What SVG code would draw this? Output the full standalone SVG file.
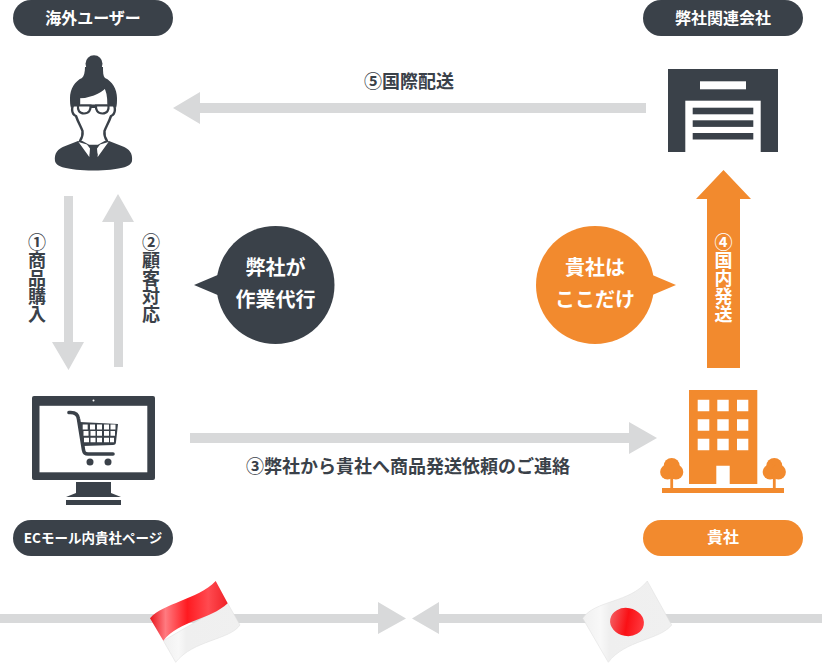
<svg xmlns="http://www.w3.org/2000/svg" width="822" height="663" viewBox="0 0 822 663">
<style>
text{font-family:"Noto Sans CJK JP","Noto Sans",sans-serif;font-weight:700}
.d{fill:#3a4149}.o{fill:#f28a2e}.g{fill:#d8d9da}.w{fill:#fff}
.pill{fill:#fff;font-size:16px;text-anchor:middle}
.lab{fill:#3a4149;font-size:18px}
.bub{fill:#fff;font-size:20px;text-anchor:middle}
.v{writing-mode:vertical-rl;font-size:18px}
.gl{fill:#fff;stroke:#3a4149;stroke-width:2.200}
</style>
<defs>
<linearGradient id="red" x1="0" y1="0" x2="1" y2="0"><stop offset="0" stop-color="#e8141c"/><stop offset=".2" stop-color="#ff7a80"/><stop offset=".48" stop-color="#ff1a20"/><stop offset=".75" stop-color="#ff4a50"/><stop offset="1" stop-color="#f02228"/></linearGradient>
<linearGradient id="whi" x1="0" y1="0" x2="1" y2="0"><stop offset="0" stop-color="#f0f0f0"/><stop offset=".2" stop-color="#f8f8f8"/><stop offset=".3" stop-color="#efefef"/><stop offset="1" stop-color="#f0f0f0"/></linearGradient>
<linearGradient id="sun" x1="0" y1="0" x2="1" y2="0"><stop offset="0" stop-color="#f45a5e"/><stop offset=".5" stop-color="#fa1015"/><stop offset="1" stop-color="#ff3a40"/></linearGradient>
</defs>
<g id="connectors">
<path class="g" d="M64 196H73V342H84L68.500 370L52 342H64Z"/>
<path class="g" d="M114 367V222H102L118 194L134 222H123V367Z"/>
<path class="g" d="M646 103V113H200V124L173 108L200 92V103Z"/>
<path class="g" d="M190 433H629V422L657 438L629 454V443H190Z"/>
<path class="o" d="M707 368V199H696L723.500 170L751 199H740V368Z"/>
<path class="g" d="M0 614H378V602L406 618.500L378 634V623H0Z"/>
<path class="g" d="M822 614H439V602L412 618.500L439 634V623H822Z"/>
</g>
<g id="label-1"><text class="lab v" x="37" y="233">①商品購入</text></g>
<g id="label-2"><text class="lab v" x="151" y="233">②顧客対応</text></g>
<g id="label-3"><text class="lab" x="246" y="473">③弊社から貴社へ商品発送依頼のご連絡</text></g>
<g id="label-4"><text class="v" fill="#fff" x="723.500" y="233">④国内発送</text></g>
<g id="label-5"><text class="lab" x="364" y="88">⑤国際配送</text></g>
<g id="overseas-user">
<rect class="d" x="13" y="0" width="160" height="36" rx="18"/>
<text class="pill" x="93" y="24">海外ユーザー</text>
<circle class="d" cx="94" cy="63.700" r="8.500"/>
<path class="d" d="M85 67C85 72 84 76 82 78C75 81 70 89 70 98C70 102 70 105 71 108L74 104H113L116 108C117 105 117 102 117 98C117 89 112 81 105 78C103 76 103 72 103 67Z"/>
<path class="d" d="M55 161C54 153 58 149 64 146.500L78 141L93.500 146L109 141L123 146.500C129 149 133 153 132 161C131 167 120 170 93.500 170.500C67 170 56 167 55 161Z"/>
<path d="M79 97C88 97 100 93 105 87C108 91 108.500 96 108.500 104L112 104C116 106 116 114 111 116C109 122 106 127 104.500 131C104 135 105 138 107 141L98 146H89L80 141C82 138 83 135 82.500 131C81 127 78 122 76 116C71 114 71 106 75 104H79Z" fill="#fff" stroke="#3a4149" stroke-width="2.400" stroke-linejoin="round"/>
<path class="w" d="M78.500 142L87 144.500L90 148.500L89.300 157ZM108.500 142L100 144.500L97 148.500L97.700 157Z"/>
<path class="d" d="M89.500 145H98L96.300 150L97.700 155L94 159L89.700 155L91 150Z"/>
<path d="M74 105.500H113M90.500 107H96" fill="none" stroke="#3a4149" stroke-width="2.200"/>
<path class="gl" d="M78 105.500H90.500C91 110 89 113.500 84 113.500C79 113.500 77.500 110 78 105.500Z"/>
<path class="gl" d="M96 105.500H108.500C109 110 107.500 113.500 102.500 113.500C97.500 113.500 95.500 110 96 105.500Z"/>
</g>
<g id="partner-company">
<rect class="d" x="643" y="0" width="160" height="36" rx="18"/>
<text class="pill" x="723" y="24">弊社関連会社</text>
<rect class="d" x="668" y="69" width="110" height="83"/>
<rect class="w" x="700" y="81.300" width="46" height="8"/>
<rect class="w" x="685.300" y="100.700" width="75.400" height="51.300"/>
<rect class="d" x="692.700" y="107.700" width="60.600" height="6.600"/>
<rect class="d" x="692.700" y="120.300" width="60.600" height="6.600"/>
<rect class="d" x="692.700" y="133" width="60.600" height="6.500"/>
</g>
<g id="bubble-ours">
<circle class="d" cx="275.500" cy="285" r="59"/>
<path class="d" d="M194 285L220 274V296Z"/>
<text class="bub" x="275.500" y="275">弊社が</text>
<text class="bub" x="275.500" y="307">作業代行</text>
</g>
<g id="bubble-yours">
<circle class="o" cx="595" cy="285" r="59"/>
<path class="o" d="M676 285L650 274V296Z"/>
<text class="bub" x="595" y="275">貴社は</text>
<text class="bub" x="595" y="307">ここだけ</text>
</g>
<g id="ec-page">
<rect class="d" x="32" y="396" width="123" height="84" rx="2"/>
<rect class="w" x="39.500" y="405.800" width="107.800" height="66.500"/>
<circle class="w" cx="93.500" cy="400.500" r="1"/>
<path class="d" d="M76 482H111V493L121 497H66L76 493Z"/>
<rect class="d" x="66" y="500" width="55" height="5"/>
<path d="M69 412.500C75 412 78 414 78.500 419L83.500 450C84 453 85 454 88 454H113" fill="none" stroke="#3a4149" stroke-width="3.600" stroke-linecap="round"/>
<path class="d" d="M80 422L118 424L116 442C116 444 115 445 113 445L83 446Z"/>
<path class="w" d="M82.700 424.500h5v5h-5zM90 424.500h5v5h-5zM97 424.500h5v5h-5zM104 424.500h5v5h-5zM110.500 424.500h5v5h-5zM83.500 431h5v4.700h-5zM90.500 431h5v4.700h-5zM97 431h5v4.700h-5zM104 431h5v4.700h-5zM110.500 431h4.500v4.700h-4.500zM84 437.700h5v4.600h-5zM90.500 437.700h5v4.600h-5zM97 437.700h5v4.600h-5zM104 437.700h5v4.600h-5zM110 437.700h4v4.600h-4z"/>
<circle class="d" cx="90" cy="462" r="3.500"/>
<circle class="d" cx="108" cy="462" r="3.500"/>
<rect class="d" x="13" y="520" width="160" height="36" rx="18"/>
<text class="pill" x="93" y="543" style="font-size:13.500px">ECモール内貴社ページ</text>
</g>
<g id="your-company">
<rect class="o" x="689" y="390" width="68.300" height="94"/>
<path class="w" d="M697.700 399.700h11.600v11.600h-11.600zM717.300 399.700h11.400v11.600h-11.400zM737 399.700h11.300v11.600h-11.300zM697.700 419.300h11.600v11.400h-11.600zM717.300 419.300h11.400v11.400h-11.400zM737 419.300h11.300v11.400h-11.300zM697.700 438.700h11.600v11.600h-11.600zM717.300 438.700h11.400v11.600h-11.400zM737 438.700h11.300v11.600h-11.300zM716.300 465.700h13.400v18.300h-13.400z"/>
<rect class="o" x="662" y="488" width="122" height="5"/>
<g class="o"><circle cx="671.700" cy="466" r="8"/><circle cx="667.500" cy="472" r="7.400"/><circle cx="675.900" cy="472" r="7.400"/><rect x="670.300" y="472" width="2.800" height="17"/>
<circle cx="774.300" cy="466" r="8"/><circle cx="770.100" cy="472" r="7.400"/><circle cx="778.500" cy="472" r="7.400"/><rect x="772.900" y="472" width="2.800" height="17"/></g>
<rect class="o" x="643" y="520" width="160" height="36" rx="18"/>
<text class="pill" x="723" y="543">貴社</text>
</g>
<g id="flag-indonesia">
<path fill="url(#whi)" stroke="#ddd" stroke-width=".5" d="M163.300 640.700L227.700 603.300L240 625C230 640 193 640 175.700 662.300Z"/>
<path fill="url(#red)" d="M150 618.300C163 603 197 600 215.700 581L227.700 603.300C210 620 180 620 163.300 640.700Z"/>
</g>
<g id="flag-japan">
<path fill="url(#whi)" stroke="#ddd" stroke-width=".5" d="M582.700 618.300C595 600 630 603 647.300 581L671.700 625C660 640 625 640 608.300 662.300Z"/>
<ellipse fill="url(#sun)" cx="627" cy="622" rx="17" ry="14" transform="rotate(10 627 622)"/>
</g>
</svg>
